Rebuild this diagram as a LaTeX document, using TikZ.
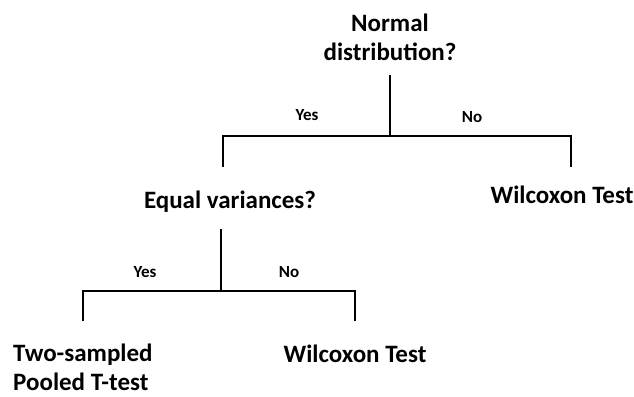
\documentclass[tikz,border=0pt]{standalone}
\usepackage{fontspec}
\setmainfont{Carlito}
\begin{document}
\begin{tikzpicture}[x=1pt,y=-1pt,
  question/.style={font=\bfseries\fontsize{25}{29}\selectfont, align=center, inner sep=0pt},
  answer/.style={font=\bfseries\fontsize{25}{29}\selectfont, align=left, inner sep=0pt},
  branch/.style={font=\bfseries\fontsize{17}{20}\selectfont, inner sep=0pt, anchor=base},
  tree/.style={line width=2pt, line cap=rect}]
\useasboundingbox (0,0) rectangle (634,396);
% first decision
\node[question] (q1) at (390,37) {Normal\\distribution?};
\coordinate (s1) at (390,76);
\coordinate (j1) at (390,136);
\coordinate (l1) at (223,136);
\coordinate (r1) at (571,136);
\coordinate (l1e) at (223,166);
\coordinate (r1e) at (571,166);
\draw[tree] (s1) -- (j1);
\draw[tree] (l1e) -- (l1) -- (r1) -- (r1e);
\node[branch] (y1) at (307,120) {Yes};
\node[branch] (n1) at (472,122) {No};
\node[question, anchor=base] (q2) at (230,208) {Equal variances?};
\node[answer, anchor=base] (w1) at (562,203) {Wilcoxon Test};
% second decision
\coordinate (s2) at (221,230);
\coordinate (j2) at (221,291);
\coordinate (l2) at (83,291);
\coordinate (r2) at (355,291);
\coordinate (l2e) at (83,320);
\coordinate (r2e) at (355,320);
\draw[tree] (s2) -- (j2);
\draw[tree] (l2e) -- (l2) -- (r2) -- (r2e);
\node[branch] (y2) at (145,277) {Yes};
\node[branch] (n2) at (289,277) {No};
\node[answer, anchor=west] (t2) at (13,367) {Two-sampled\\Pooled T-test};
\node[answer, anchor=base] (w2) at (355,362) {Wilcoxon Test};
\end{tikzpicture}
\end{document}
